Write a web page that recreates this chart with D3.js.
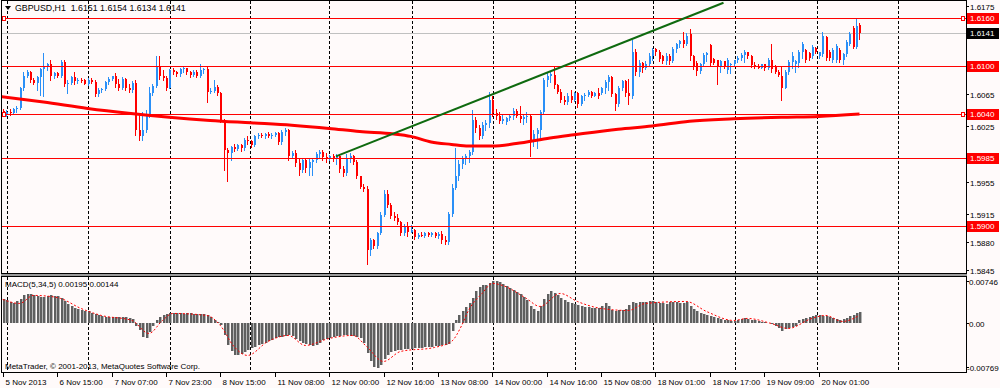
<!DOCTYPE html>
<html>
<head>
<meta charset="utf-8">
<script src="https://cdn.jsdelivr.net/npm/d3@7"></script>
<style>
  html, body { margin: 0; padding: 0; background: #fffafa; }
  svg { display: block; font-family: 'Liberation Sans', Arial, sans-serif; font-size: 8px; }
</style>
</head>
<body>
<svg id="chart" width="1000" height="388"></svg>
<script>
// GBPUSD H1 bars. Prices are written as the four digits after "1." (6040 -> 1.6040).
const opens = [
  6044,6040,6043,6041,6046,6048,6072,6088,6092,6083,
  6079,6086,6096,6100,6102,6087,6091,6088,6105,6077,
  6079,6086,6081,6083,6082,6078,6083,6080,6065,6070,
  6071,6080,6084,6087,6077,6073,6084,6072,6070,6079,
  6020,6012,6020,6038,6066,6075,6100,6087,6085,6073,
  6095,6092,6090,6096,6097,6092,6089,6093,6088,6095,
  6096,6068,6069,6074,6066,6032,5995,5991,5999,5996,
  6001,5997,6008,6006,6001,6012,6014,6012,6015,6012,
  6014,6016,6005,6017,6020,5988,5991,5979,5970,5982,
  5972,5980,5983,5990,5993,5986,5984,5988,5985,5988,
  5971,5966,5985,5988,5980,5962,5949,5946,5870,5882,
  5875,5891,5914,5940,5926,5912,5910,5905,5891,5900,
  5893,5895,5886,5889,5888,5891,5889,5891,5888,5890,
  5883,5880,5915,5948,5962,5978,5985,5987,5993,6033,
  6022,6012,6026,6029,6058,6041,6037,6031,6030,6035,
  6037,6044,6038,6034,6036,6038,6008,6015,6020,6042,
  6082,6088,6089,6076,6068,6057,6055,6063,6057,6066,
  6052,6062,6064,6068,6063,6066,6066,6072,6080,6086,
  6065,6052,6073,6081,6066,6062,6118,6092,6104,6097,
  6103,6113,6121,6117,6112,6106,6113,6106,6121,6127,
  6133,6127,6140,6112,6104,6094,6102,6114,6126,6109,
  6107,6099,6106,6095,6101,6103,6107,6110,6114,6118,
  6112,6101,6099,6098,6102,6097,6108,6099,6093,6087,
  6073,6092,6105,6103,6104,6117,6120,6116,6112,6123,
  6112,6115,6136,6118,6107,6108,6120,6107,6115,6128,
  6148,6124,6151
];
const highs = [
  6046,6045,6046,6048,6050,6074,6093,6095,6094,6085,
  6088,6098,6116,6104,6108,6093,6093,6108,6107,6082,
  6088,6093,6085,6085,6084,6085,6085,6082,6072,6073,
  6081,6086,6088,6091,6084,6086,6085,6078,6081,6082,
  6041,6043,6045,6074,6077,6112,6113,6095,6087,6096,
  6097,6094,6098,6099,6098,6094,6095,6095,6103,6098,
  6099,6073,6082,6076,6068,6034,5997,6000,6002,6003,
  6003,6010,6012,6008,6014,6016,6016,6016,6017,6016,
  6018,6017,6020,6022,6021,5994,5995,5984,5985,5984,
  5985,5985,5993,5995,5995,5991,5989,5990,5990,5989,
  5975,5990,5991,5989,5983,5963,5952,5950,5885,5884,
  5893,5917,5945,5945,5929,5918,5915,5906,5903,5905,
  5901,5896,5891,5892,5893,5892,5893,5892,5893,5894,
  5887,5918,5952,5998,5982,5988,5990,5995,6045,6036,
  6026,6030,6032,6067,6062,6046,6042,6039,6036,6039,
  6047,6046,6050,6040,6042,6040,6020,6022,6045,6085,
  6091,6093,6099,6078,6071,6062,6066,6070,6068,6067,
  6064,6066,6070,6069,6068,6072,6074,6082,6089,6087,
  6066,6075,6083,6082,6084,6132,6121,6107,6105,6106,
  6116,6122,6122,6120,6114,6116,6115,6124,6129,6133,
  6142,6141,6146,6114,6106,6104,6116,6118,6128,6110,
  6108,6108,6106,6110,6104,6108,6112,6116,6120,6118,
  6114,6105,6103,6103,6103,6110,6128,6101,6095,6099,
  6095,6108,6118,6107,6120,6130,6121,6118,6126,6124,
  6118,6143,6137,6120,6122,6128,6122,6116,6132,6143,
  6150,6159,6154
];
const lows = [
  6037,6038,6039,6040,6043,6046,6070,6086,6080,6077,
  6070,6064,6063,6095,6082,6085,6086,6086,6075,6066,
  6077,6078,6079,6080,6077,6076,6079,6063,6063,6068,
  6070,6078,6082,6074,6070,6071,6070,6068,6068,6014,
  6007,6007,6018,6036,6064,6074,6084,6082,6070,6072,
  6090,6087,6087,6093,6090,6086,6088,6086,6086,6091,
  6055,6066,6067,6064,6030,5970,5956,5983,5994,5995,
  5994,5995,6003,5999,6000,6010,6011,6010,6011,6010,
  6012,6002,6003,6014,5983,5986,5975,5964,5968,5968,
  5964,5964,5980,5986,5982,5980,5982,5981,5978,5968,
  5963,5964,5980,5978,5960,5947,5944,5853,5864,5872,
  5873,5890,5912,5924,5910,5908,5903,5889,5889,5887,
  5892,5884,5885,5887,5886,5887,5887,5886,5885,5879,
  5877,5878,5913,5946,5958,5972,5978,5980,5990,6018,
  6009,6010,6020,6024,6038,6034,6029,6029,6028,6032,
  6034,6036,6030,6028,6030,5987,6000,5998,6010,6040,
  6075,6080,6072,6066,6055,6053,6053,6055,6056,6049,
  6051,6058,6062,6061,6063,6060,6065,6066,6070,6062,
  6045,6050,6070,6063,6053,6060,6089,6087,6093,6096,
  6101,6107,6114,6106,6104,6103,6103,6105,6118,6124,
  6124,6126,6108,6096,6089,6091,6100,6106,6101,6103,
  6078,6093,6098,6091,6091,6101,6105,6107,6105,6110,
  6099,6097,6097,6097,6095,6096,6093,6091,6087,6057,
  6072,6090,6098,6093,6099,6110,6105,6107,6110,6116,
  6110,6112,6107,6107,6105,6105,6105,6103,6113,6126,
  6122,6122,6134
];
const closes = [
  6040,6043,6041,6046,6048,6072,6088,6092,6083,6079,
  6086,6096,6100,6102,6087,6091,6088,6105,6077,6079,
  6086,6081,6083,6082,6078,6083,6080,6065,6070,6071,
  6080,6084,6087,6077,6073,6084,6072,6070,6079,6020,
  6012,6020,6038,6066,6075,6100,6087,6085,6073,6095,
  6092,6090,6096,6097,6092,6089,6093,6088,6095,6096,
  6068,6069,6074,6066,6032,5995,5991,5999,5996,6001,
  5997,6008,6006,6001,6012,6014,6012,6015,6012,6014,
  6016,6005,6017,6020,5988,5991,5979,5970,5982,5972,
  5980,5983,5990,5993,5986,5984,5988,5985,5988,5971,
  5966,5985,5988,5980,5962,5949,5946,5870,5882,5875,
  5891,5914,5940,5926,5912,5910,5905,5891,5900,5893,
  5895,5886,5889,5888,5891,5889,5891,5888,5890,5883,
  5880,5915,5948,5962,5978,5985,5987,5993,6033,6022,
  6012,6026,6029,6058,6041,6037,6031,6034,6035,6037,
  6044,6038,6034,6036,6038,6008,6015,6020,6042,6082,
  6088,6090,6076,6068,6057,6055,6063,6057,6066,6052,
  6062,6064,6068,6063,6066,6062,6072,6080,6086,6065,
  6052,6073,6081,6066,6062,6117,6092,6104,6097,6103,
  6113,6120,6117,6109,6106,6113,6106,6121,6127,6131,
  6127,6138,6112,6099,6094,6102,6114,6116,6104,6104,
  6099,6106,6100,6108,6103,6107,6110,6114,6118,6112,
  6101,6099,6098,6102,6097,6108,6096,6093,6089,6073,
  6092,6105,6112,6106,6117,6127,6108,6110,6124,6117,
  6117,6138,6110,6110,6120,6125,6108,6115,6130,6140,
  6124,6150,6141
];

// Moving average (thick red), read at a few bars.
const maBars = [-1, 12, 25, 37, 49, 61, 73, 85, 96, 105, 115, 120, 126, 132, 137, 144, 151, 161, 168, 181, 191, 202, 215, 229, 240, 252];
const maValues = [6062, 6055, 6047, 6041, 6036, 6032, 6029, 6026, 6022, 6018, 6015, 6012, 6005, 6002, 6000, 6000, 6003, 6010, 6014, 6021, 6025, 6031, 6034, 6036, 6037, 6040];

// Drawn objects.
const levels = [6160, 6100, 6040, 5985, 5900];
const bidLevel = 6141;
const trendBars = [98, 212];
const trendValues = [5987, 6179];

// Price axis.
const priceTicks = [6175, 6140, 6100, 6065, 6025, 5990, 5955, 5915, 5880, 5845];

// MACD(5,34,5), values in 0.00001.
const macdHist = [
  425,407,372,354,389,425,496,513,513,496,
  478,460,460,478,496,478,478,443,389,336,
  301,266,248,230,212,212,177,159,142,124,
  106,106,106,106,106,106,106,89,71,-53,
  -124,-248,-266,-159,-53,53,106,142,159,177,
  180,182,178,175,177,180,176,172,168,159,
  142,106,53,18,-35,-212,-389,-496,-566,-566,
  -549,-513,-478,-443,-425,-389,-372,-354,-319,-301,
  -266,-248,-248,-230,-212,-230,-283,-319,-354,-372,
  -389,-407,-389,-354,-301,-283,-266,-248,-230,-230,
  -212,-212,-230,-230,-248,-266,-354,-531,-673,-779,
  -797,-743,-637,-566,-513,-496,-478,-478,-460,-460,
  -460,-443,-443,-443,-425,-425,-425,-407,-407,-389,
  -389,-372,-142,53,142,212,283,354,443,566,
  637,673,673,708,743,743,726,690,655,620,
  584,549,513,460,407,301,248,212,301,425,
  513,566,531,496,443,407,372,354,336,319,
  301,283,283,266,266,266,301,354,301,230,
  212,230,230,248,319,372,354,372,372,372,
  389,389,372,354,354,336,372,372,372,354,
  354,372,301,248,212,177,159,142,124,106,
  89,71,53,53,35,35,53,71,89,71,
  53,53,35,18,18,0,-18,-53,-89,-142,
  -106,-89,-71,-53,53,71,89,106,124,142,
  142,124,124,106,89,71,53,71,89,124,
  142,177,195
];
const signalBars = [0, 5, 9, 14, 17, 23, 29, 38, 43, 47, 50, 60, 64, 68, 72, 78, 84, 89, 96, 103, 107, 112, 117, 127, 132, 135, 137, 141, 144, 147, 154, 158, 164, 169, 176, 184, 189, 201, 207, 215, 219, 226, 231, 238, 242, 247, 252];
const signalValues = [425, 354, 496, 478, 443, 266, 142, 53, -177, 53, 177, 142, -35, -407, -566, -319, -212, -389, -266, -212, -407, -673, -496, -425, -319, -35, 230, 531, 708, 673, 443, 301, 531, 389, 266, 230, 354, 389, 212, 53, 89, 0, -89, 89, 142, 35, 144];
const macdTicks = [746, 0, -769];
const macdTickLabels = ['0.00746', '0.00', '-0.00769'];

// Time axis.
const dayBars = [1.3, 25.1, 49.2, 72.7, 96, 120.4, 144.2, 168.3, 191.3, 215.4, 239.5, 263.3];
const timeBars = [0, 16, 32, 48, 64, 80, 96, 112, 128, 144, 160, 176, 192, 208, 224, 240];
const timeLabels = ['5 Nov 2013', '6 Nov 15:00', '7 Nov 07:00', '7 Nov 23:00', '8 Nov 15:00', '11 Nov 08:00', '12 Nov 00:00', '12 Nov 16:00', '13 Nov 08:00', '14 Nov 00:00', '14 Nov 16:00', '15 Nov 08:00', '18 Nov 01:00', '18 Nov 17:00', '19 Nov 09:00', '20 Nov 01:00'];

const toPrice = (v) => 1 + v / 10000;
const toMacd = (v) => v / 100000;

// Layout.
const frame = {left: 1.5, right: 966.5, top: 0.5, priceBottom: 273.5, macdTop: 276.5, macdBottom: 372.5};
const bullColor = '#2a8ff7';
const bearColor = '#ff0000';

// Scales.
const xScale = d3.scaleLinear().domain([0, 100]).range([2.7, 342.7]);
const yPrice = d3.scaleLinear().domain([1.5845, 1.6175]).range([270, 6]);
const yMacd = d3.scaleLinear().domain([-0.00769, 0.00746]).range([366.9, 281.3]);

const svg = d3.select('#chart');

svg.append('rect').attr('width', 1000).attr('height', 388).attr('fill', '#fffafa');

const defs = svg.append('defs');
defs.append('clipPath').attr('id', 'price-clip')
  .append('rect').attr('x', 2).attr('y', 1).attr('width', 964).attr('height', 272);
defs.append('clipPath').attr('id', 'macd-clip')
  .append('rect').attr('x', 2).attr('y', 277).attr('width', 964).attr('height', 95);

// Day separators (dotted).
const grid = svg.append('g').attr('shape-rendering', 'crispEdges');
dayBars.forEach((b) => {
  const x = Math.round(xScale(b)) + 0.5;
  [[frame.top, frame.priceBottom], [frame.macdTop, frame.macdBottom]].forEach(([y1, y2]) => {
    grid.append('line')
      .attr('x1', x).attr('x2', x).attr('y1', y1).attr('y2', y2)
      .attr('stroke', '#000').attr('stroke-dasharray', '3,2');
  });
});

// Price panel.
const pricePanel = svg.append('g').attr('clip-path', 'url(#price-clip)');

// Bid line.
pricePanel.append('line')
  .attr('x1', 2).attr('x2', 966)
  .attr('y1', Math.round(yPrice(toPrice(bidLevel))) + 0.5)
  .attr('y2', Math.round(yPrice(toPrice(bidLevel))) + 0.5)
  .attr('stroke', '#c0c0c0').attr('shape-rendering', 'crispEdges');

const bars = d3.range(closes.length).map((i) => ({
  i: i,
  open: toPrice(opens[i]),
  close: toPrice(closes[i]),
  high: toPrice(Math.max(highs[i], opens[i], closes[i])),
  low: toPrice(Math.min(lows[i], opens[i], closes[i]))
}));

const candles = pricePanel.append('g').attr('shape-rendering', 'crispEdges')
  .selectAll('g')
  .data(bars)
  .enter()
  .append('g')
  .attr('fill', (d) => d.close >= d.open ? bullColor : bearColor)
  .attr('stroke', (d) => d.close >= d.open ? bullColor : bearColor);

candles.append('line')
  .attr('x1', (d) => Math.round(xScale(d.i)) + 0.5)
  .attr('x2', (d) => Math.round(xScale(d.i)) + 0.5)
  .attr('y1', (d) => Math.round(yPrice(d.high)))
  .attr('y2', (d) => Math.round(yPrice(d.low)) + 1);

candles.append('rect')
  .attr('stroke', 'none')
  .attr('x', (d) => Math.round(xScale(d.i)))
  .attr('width', 2)
  .attr('y', (d) => Math.round(yPrice(Math.max(d.open, d.close))))
  .attr('height', (d) => Math.max(1, Math.round(yPrice(Math.min(d.open, d.close))) - Math.round(yPrice(Math.max(d.open, d.close)))));

// Moving average.
const maLine = d3.line()
  .x((d, i) => xScale(maBars[i]))
  .y((d) => yPrice(toPrice(d)))
  .curve(d3.curveMonotoneX);
pricePanel.append('path')
  .attr('d', maLine(maValues))
  .attr('fill', 'none')
  .attr('stroke', '#ff0000')
  .attr('stroke-width', 3);

// Horizontal levels.
levels.forEach((lv) => {
  const y = Math.round(yPrice(toPrice(lv))) + 0.5;
  pricePanel.append('line')
    .attr('x1', 2).attr('x2', 966).attr('y1', y).attr('y2', y)
    .attr('stroke', '#ff0000').attr('shape-rendering', 'crispEdges');
});
[6160, 6040].forEach((lv) => {
  const y = Math.round(yPrice(toPrice(lv)));
  [2.5, 961.5].forEach((x) => {
    pricePanel.append('rect')
      .attr('x', x).attr('y', y - 1.5).attr('width', 3).attr('height', 4)
      .attr('fill', '#fffafa').attr('stroke', '#ff0000').attr('shape-rendering', 'crispEdges');
  });
});

// Trend line.
pricePanel.append('line')
  .attr('x1', xScale(trendBars[0])).attr('y1', yPrice(toPrice(trendValues[0])))
  .attr('x2', xScale(trendBars[1])).attr('y2', yPrice(toPrice(trendValues[1])))
  .attr('stroke', '#0f6a0f').attr('stroke-width', 2);

// MACD panel.
const macdPanel = svg.append('g').attr('clip-path', 'url(#macd-clip)');
const zeroY = Math.round(yMacd(0));
const histBars = macdPanel.append('g').attr('shape-rendering', 'crispEdges')
  .selectAll('g')
  .data(macdHist)
  .enter()
  .append('g');
histBars.append('rect')
  .attr('x', (d, i) => Math.round(xScale(i)))
  .attr('width', 3)
  .attr('y', (d) => Math.min(zeroY, Math.round(yMacd(toMacd(d)))))
  .attr('height', (d) => Math.abs(Math.round(yMacd(toMacd(d))) - zeroY))
  .attr('fill', '#b4b4b4');
histBars.append('rect')
  .attr('x', (d, i) => Math.round(xScale(i)))
  .attr('width', 2)
  .attr('y', (d) => Math.min(zeroY, Math.round(yMacd(toMacd(d)))))
  .attr('height', (d) => Math.abs(Math.round(yMacd(toMacd(d))) - zeroY))
  .attr('fill', '#5f5f5f');

const signalLine = d3.line()
  .x((d, i) => xScale(signalBars[i]))
  .y((d) => yMacd(toMacd(d)))
  .curve(d3.curveMonotoneX);
macdPanel.append('path')
  .attr('d', signalLine(signalValues))
  .attr('fill', 'none')
  .attr('stroke', '#ff0000')
  .attr('stroke-dasharray', '2,2');

// Frames and the splitter between the two windows.
svg.append('rect').attr('x', 1).attr('y', 274).attr('width', 966).attr('height', 2).attr('fill', '#9a9a9a');
const frames = svg.append('g').attr('shape-rendering', 'crispEdges').attr('fill', 'none').attr('stroke', '#000');
frames.append('path')
  .attr('d', 'M' + frame.left + ',' + frame.priceBottom + 'V' + frame.top + 'H' + frame.right + 'V' + frame.priceBottom + 'Z');
frames.append('path')
  .attr('d', 'M' + frame.left + ',' + frame.macdTop + 'V' + frame.macdBottom + 'H' + frame.right + 'V' + frame.macdTop + 'Z');

// Price axis ticks and labels.
const axis = svg.append('g');
priceTicks.forEach((t) => {
  const y = Math.round(yPrice(toPrice(t))) + 0.5;
  axis.append('line').attr('x1', 966).attr('x2', 969).attr('y1', y).attr('y2', y)
    .attr('stroke', '#000').attr('shape-rendering', 'crispEdges');
  axis.append('text').attr('x', 970).attr('y', y + 3).attr('fill', '#000')
    .text(toPrice(t).toFixed(4));
});

// Boxed labels for levels and bid.
const boxLabel = (value, color) => {
  const y = Math.round(yPrice(toPrice(value)));
  axis.append('rect').attr('x', 967).attr('y', y - 5).attr('width', 32).attr('height', 11)
    .attr('fill', color).attr('shape-rendering', 'crispEdges');
  axis.append('text').attr('x', 970).attr('y', y + 3).attr('fill', '#fff')
    .text(toPrice(value).toFixed(4));
};
levels.forEach((lv) => boxLabel(lv, '#ff0000'));
boxLabel(bidLevel, '#000');

// MACD axis.
macdTicks.forEach((t, i) => {
  const y = Math.round(yMacd(toMacd(t))) + 0.5;
  axis.append('line').attr('x1', 966).attr('x2', 969).attr('y1', y).attr('y2', y)
    .attr('stroke', '#000').attr('shape-rendering', 'crispEdges');
  axis.append('text').attr('x', t < 0 ? 967 : 969).attr('y', y + 3).attr('fill', '#000')
    .text(macdTickLabels[i]);
});

// Time axis.
timeBars.forEach((b, i) => {
  const x = Math.round(xScale(b)) + 0.5;
  axis.append('line').attr('x1', x).attr('x2', x).attr('y1', 372).attr('y2', 377)
    .attr('stroke', '#000').attr('shape-rendering', 'crispEdges');
  axis.append('text').attr('x', x + 2).attr('y', 385).attr('fill', '#000')
    .text(timeLabels[i]);
});

// Captions.
axis.append('path').attr('d', 'M5,6 L11,6 L8,10 Z').attr('fill', '#000');
axis.append('text').attr('x', 15).attr('y', 11).attr('fill', '#000')
  .attr('font-size', '8.8px')
  .attr('xml:space', 'preserve')
  .text('GBPUSD,H1  1.6151 1.6154 1.6134 1.6141');
axis.append('text').attr('x', 5).attr('y', 287).attr('fill', '#000')
  .text('MACD(5,34,5) 0.00195 0.00144');
axis.append('text').attr('x', 5).attr('y', 369).attr('fill', '#000')
  .text('MetaTrader, \u00a9 2001-2013, MetaQuotes Software Corp.');
</script>
</body>
</html>
